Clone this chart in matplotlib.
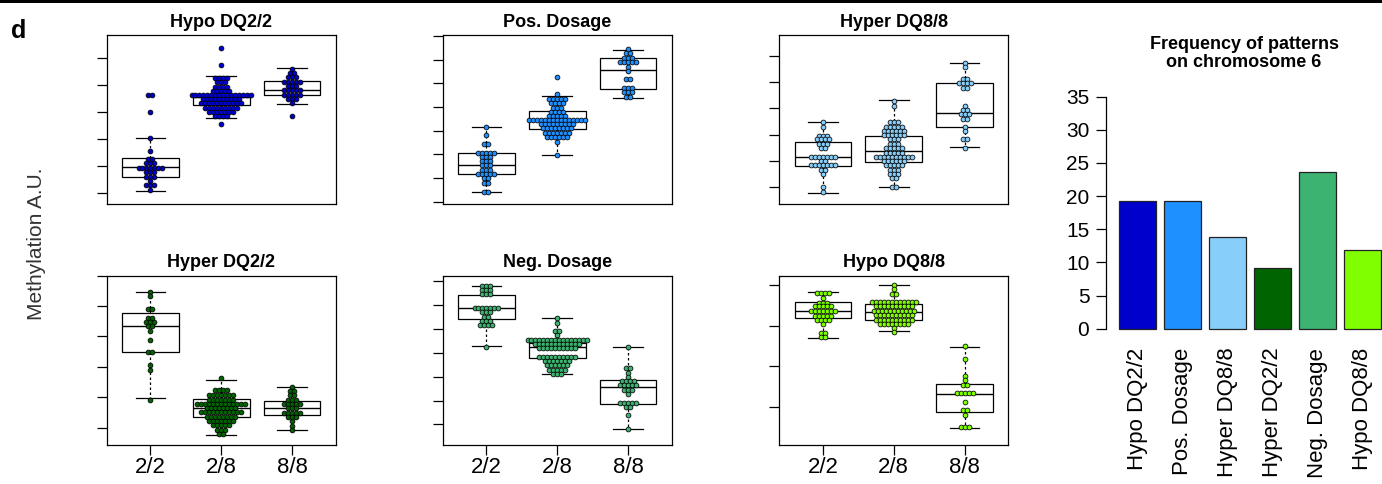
import numpy as np
import matplotlib
matplotlib.use('Agg')
import matplotlib.pyplot as plt

plt.rcParams['font.family'] = ['Liberation Sans', 'DejaVu Sans']

groups = ['2/2', '2/8', '8/8']
titles = ['Hypo DQ2/2', 'Pos. Dosage', 'Hyper DQ8/8', 'Hyper DQ2/2', 'Neg. Dosage', 'Hypo DQ8/8']
colors = ['#0000CD', '#1E90FF', '#87CEFA', '#006400', '#3CB371', '#7FFF00']

# methylation levels (rows of the swarm) and number of samples per row, per genotype group
hypo22_y = [[3.62, 2.99, 2.05, 1.56, 1.25, 1.11, 0.94, 0.77, 0.61, 0.45, 0.31, 0.12],
            [5.37, 4.73, 4.26, 4.09, 3.93, 3.77, 3.62, 3.47, 3.32, 3.16, 3.00, 2.85, 2.54],
            [4.58, 4.45, 4.28, 4.12, 3.96, 3.81, 3.64, 3.48, 3.32, 2.84]]
hypo22_n = [[2, 1, 1, 1, 2, 3, 7, 3, 3, 1, 3, 1],
            [1, 1, 4, 3, 4, 5, 16, 10, 11, 9, 7, 4, 1],
            [1, 2, 3, 5, 3, 5, 5, 3, 1, 1]]
# box stats: median, q1, q3, lower whisker, upper whisker
hypo22_box = [[0.98, 0.60, 1.29, 0.10, 2.05],
              [3.55, 3.24, 3.64, 2.77, 4.31],
              [3.81, 3.61, 4.15, 3.30, 4.63]]

pos_y = [[3.17, 2.81, 2.44, 2.07, 1.90, 1.72, 1.54, 1.35, 1.17, 0.99, 0.79, 0.42],
         [5.26, 4.54, 4.34, 4.16, 3.97, 3.79, 3.62, 3.45, 3.27, 3.10, 2.92, 2.75, 2.53, 1.99],
         [6.45, 6.27, 6.08, 5.89, 5.70, 5.53, 5.17, 4.80, 4.62, 4.42]]
pos_n = [[1, 1, 2, 5, 3, 3, 3, 3, 5, 2, 2, 2],
         [1, 1, 5, 4, 3, 4, 5, 15, 9, 8, 7, 6, 1, 1],
         [1, 2, 3, 5, 1, 1, 2, 3, 3, 2]]
pos_box = [[1.55, 1.16, 2.04, 0.41, 3.17],
           [3.45, 3.07, 3.83, 1.99, 4.47],
           [5.57, 4.77, 6.06, 4.38, 6.41]]

hyper88_y = [[2.47, 2.28, 1.96, 1.83, 1.65, 1.48, 1.16, 1.00, 0.84, 0.67, 0.51, 0.00, -0.17],
             [3.29, 3.10, 2.47, 2.30, 2.14, 1.98, 1.83, 1.65, 1.48, 1.32, 1.16, 1.00, 0.84, 0.67, 0.51, 0.34, 0.00],
             [4.74, 4.59, 4.11, 3.95, 3.79, 3.10, 2.94, 2.78, 2.61, 2.28, 2.14, 1.83, 1.48]]
hyper88_n = [[1, 1, 3, 4, 3, 2, 7, 2, 7, 2, 1, 1, 1],
             [1, 1, 3, 5, 6, 6, 3, 3, 5, 5, 10, 6, 5, 3, 3, 2, 2],
             [1, 1, 2, 4, 2, 1, 2, 3, 2, 1, 1, 2, 1]]
hyper88_box = [[1.16, 0.81, 1.73, -0.21, 2.49],
               [1.39, 0.97, 1.96, 0.00, 3.32],
               [2.84, 2.30, 3.95, 1.54, 4.71]]

hyper22_y = [[4.47, 4.32, 3.89, 3.62, 3.48, 3.33, 3.19, 2.90, 2.48, 2.06, 1.90, 0.91],
             [1.63, 1.22, 1.07, 0.92, 0.78, 0.64, 0.50, 0.35, 0.21, 0.07, -0.08, -0.21],
             [1.35, 1.20, 1.06, 0.91, 0.77, 0.63, 0.49, 0.34, 0.20, 0.06, -0.08]]
hyper22_n = [[1, 1, 2, 2, 3, 2, 1, 1, 2, 1, 1, 1],
             [1, 4, 7, 7, 13, 8, 11, 8, 7, 5, 3, 2],
             [1, 2, 2, 3, 5, 3, 5, 3, 1, 1, 1]]
hyper22_box = [[3.36, 2.50, 3.77, 0.98, 4.45],
               [0.64, 0.33, 0.93, -0.24, 1.57],
               [0.64, 0.42, 0.88, -0.08, 1.33]]

neg_y = [[5.81, 5.63, 5.45, 4.89, 4.69, 4.52, 4.34, 4.17, 3.26],
         [4.48, 4.27, 3.91, 3.75, 3.55, 3.37, 3.19, 2.83, 2.66, 2.48, 2.29, 2.11],
         [3.25, 2.35, 2.17, 2.00, 1.82, 1.64, 1.45, 1.27, 0.91, 0.73, 0.38, -0.18]]
neg_n = [[3, 3, 3, 7, 3, 2, 3, 4, 1],
         [1, 1, 2, 1, 16, 12, 10, 10, 7, 6, 5, 3],
         [1, 2, 1, 1, 4, 5, 3, 1, 5, 2, 1, 1]]
neg_box = [[4.86, 4.41, 5.43, 3.29, 5.78],
           [3.25, 2.77, 3.40, 2.10, 4.44],
           [1.55, 0.84, 1.87, -0.21, 3.25]]

hypo88_y = [[2.81, 2.68, 2.57, 2.48, 2.36, 2.25, 2.15, 2.05, 1.83, 1.73],
            [3.00, 2.90, 2.79, 2.58, 2.48, 2.37, 2.26, 2.15, 2.05, 1.95, 1.84],
            [1.50, 1.19, 0.77, 0.66, 0.55, 0.34, 0.12, -0.08, -0.19, -0.51]]
hypo88_n = [[4, 1, 3, 5, 7, 5, 4, 1, 2, 2],
            [1, 1, 2, 12, 10, 11, 10, 10, 8, 1, 1],
            [1, 1, 1, 1, 2, 5, 1, 2, 1, 3]]
hypo88_box = [[2.37, 2.18, 2.59, 1.69, 2.83],
              [2.34, 2.13, 2.53, 1.87, 3.00],
              [0.31, -0.13, 0.56, -0.53, 1.47]]

# frequency of each pattern on chromosome 6
freq = [19.3, 19.3, 13.9, 9.1, 23.6, 11.8]

panel_y = [hypo22_y, pos_y, hyper88_y, hyper22_y, neg_y, hypo88_y]
panel_n = [hypo22_n, pos_n, hyper88_n, hyper22_n, neg_n, hypo88_n]
panel_box = [hypo22_box, pos_box, hyper88_box, hyper22_box, neg_box, hypo88_box]
panel_ticks = [6, 8, 6, 6, 7, 4]
panel_ylim = [(-0.395, 5.84), (-0.097, 7.04), (-0.635, 5.79),
              (-0.56, 5.01), (-0.84, 6.24), (-0.93, 3.24)]

W, H = 1382, 484
fig = plt.figure(figsize=(W / 100, H / 100), dpi=100)


def px_axes(left, top, width, height):
    return fig.add_axes([left / W, 1 - (top + height) / H, width / W, height / H])


def swarm(ax, xc, levels, counts, color, dx=0.056):
    xs, ys = [], []
    for y, n in zip(levels, counts):
        off = (np.arange(n) - (n - 1) / 2) * dx
        xs.extend(xc + off)
        ys.extend([y] * n)
    ax.scatter(xs, ys, s=12, c=color, edgecolors='black', linewidths=0.55, zorder=3)


lefts = [106.5, 442.5, 779]
tops = [35, 275.5]
for k in range(6):
    r, c = divmod(k, 3)
    ax = px_axes(lefts[c], tops[r], 229.5, 169)
    stats = []
    for b in panel_box[k]:
        stats.append({'med': b[0], 'q1': b[1], 'q3': b[2], 'whislo': b[3], 'whishi': b[4], 'fliers': []})
    ax.bxp(stats, positions=[1, 2, 3], widths=0.8, capwidths=0.42, patch_artist=True, showfliers=False,
           boxprops=dict(facecolor='white', edgecolor='black', linewidth=0.9),
           whiskerprops=dict(color='black', linewidth=0.9, linestyle=(0, (2, 2))),
           capprops=dict(color='black', linewidth=0.9),
           medianprops=dict(color='black', linewidth=1.0))
    for i in range(3):
        swarm(ax, i + 1, panel_y[k][i], panel_n[k][i], colors[k])
    ax.set_xlim(0.38, 3.62)
    ax.set_ylim(*panel_ylim[k])
    ax.set_yticks(np.arange(panel_ticks[k]))
    ax.set_yticklabels([])
    ax.tick_params(axis='y', length=7, width=0.9, direction='out')
    for s in ax.spines.values():
        s.set_linewidth(0.9)
    if r == 0:
        ax.set_xticks([])
    else:
        ax.set_xticks([1, 2, 3])
        ax.set_xticklabels(groups, fontsize=16)
        ax.tick_params(axis='x', length=7, width=0.9, pad=2)
    ax.set_title(titles[k], fontsize=13, fontweight='bold', pad=6)

# bar chart of pattern frequency
bx = px_axes(1106, 87.4, 276, 250.6)
xpos = 0.7 + 1.2 * np.arange(len(freq))
bx.bar(xpos, freq, width=1.0, color=colors, edgecolor='#222222', linewidth=0.9)
bx.set_xlim(-0.147, 7.227)
bx.set_ylim(-1.4, 36.4)
bx.set_yticks(np.arange(0, 36, 5))
bx.tick_params(axis='y', labelsize=15, length=7, width=0.9, pad=5)
bx.set_xticks(xpos)
bx.set_xticklabels(titles, rotation=90, fontsize=16)
bx.tick_params(axis='x', length=0, pad=7)
for s in ['top', 'right', 'bottom']:
    bx.spines[s].set_visible(False)
bx.spines['left'].set_bounds(0, 35)
bx.spines['left'].set_linewidth(0.9)
fig.text(1244 / W, 1 - 53.5 / H, 'Frequency of patterns\non chromosome 6', ha='center', va='center',
         fontsize=13, fontweight='bold', linespacing=1.1)

fig.text(37 / W, 1 - 244 / H, 'Methylation A.U.', rotation=90, ha='center', va='center',
         fontsize=15, color='#333333')
fig.text(11 / W, 1 - 38 / H, 'd', fontsize=18, fontweight='bold', va='baseline')
fig.add_artist(plt.Rectangle((0, 1 - 3 / H), 1, 3 / H, transform=fig.transFigure,
                             color='black', lw=0))

fig.savefig('out.png', dpi=100)
